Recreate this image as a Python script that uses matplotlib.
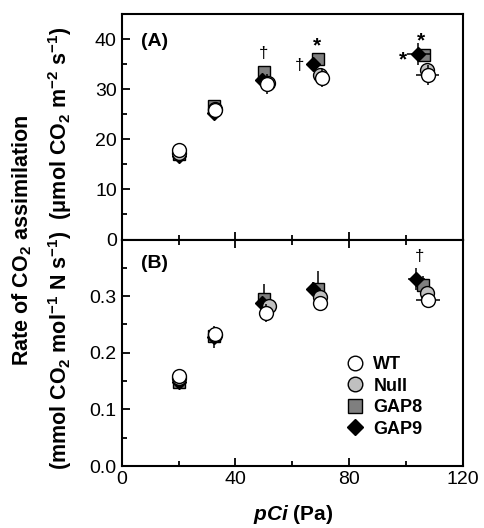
import matplotlib
matplotlib.use("Agg")
import matplotlib.pyplot as plt
from matplotlib.ticker import MultipleLocator

plt.rcParams['font.family'] = ['Liberation Sans', 'DejaVu Sans']
plt.rcParams['mathtext.fontset'] = 'custom'
plt.rcParams['mathtext.rm'] = 'Liberation Sans'
plt.rcParams['mathtext.bf'] = 'Liberation Sans:bold'
plt.rcParams['mathtext.it'] = 'Liberation Sans:italic:bold'

# panel A: rate per leaf area (umol CO2 m-2 s-1)
a_wt_x = [20.2, 32.8, 51.0, 70.3, 107.6]
a_wt_y = [17.9, 25.9, 31.0, 32.2, 32.8]
a_wt_yerr = [0.9, 0.9, 2.0, 1.8, 2.0]
a_wt_xerr = [0.5, 0.5, 0.6, 0.8, 4.1]
a_null_x = [20.2, 32.8, 51.5, 69.9, 107.2]
a_null_y = [17.3, 26.0, 31.2, 32.8, 33.8]
a_gap8_x = [20.0, 32.6, 50.1, 68.9, 106.3]
a_gap8_y = [17.0, 26.6, 33.5, 36.0, 36.8]
a_gap8_yerr = [0.6, 0.6, 0.9, 1.0, 1.0]
a_gap9_x = [20.0, 32.6, 49.2, 67.4, 104.3]
a_gap9_y = [16.7, 25.3, 31.8, 35.0, 37.0]
a_gap9_yerr = [0.5, 0.5, 0.6, 0.8, 2.2]
a_gap9_xerr = [0.4, 0.4, 0.5, 0.6, 4.0]

# panel B: rate per leaf N (mmol CO2 mol-1 N s-1)
b_wt_x = [20.2, 32.8, 50.6, 69.9, 107.6]
b_wt_y = [0.159, 0.233, 0.270, 0.287, 0.293]
b_wt_yerr = [0.012, 0.012, 0.016, 0.012, 0.013]
b_wt_xerr = [0.5, 0.5, 0.6, 0.8, 4.2]
b_null_x = [20.2, 32.8, 51.9, 69.9, 107.2]
b_null_y = [0.155, 0.231, 0.282, 0.298, 0.306]
b_gap8_x = [20.0, 32.6, 50.1, 69.1, 106.0]
b_gap8_y = [0.149, 0.229, 0.295, 0.313, 0.320]
b_gap8_yerr = [0.008, 0.012, 0.027, 0.031, 0.016]
b_gap9_x = [20.0, 32.4, 49.2, 67.4, 103.6]
b_gap9_y = [0.148, 0.228, 0.287, 0.313, 0.330]
b_gap9_yerr = [0.008, 0.020, 0.012, 0.012, 0.020]
b_gap9_xerr = [0.4, 0.4, 0.5, 0.6, 3.0]

fig = plt.figure(figsize=(4.84, 5.28), dpi=100)
axA = fig.add_axes([0.2514, 0.5464, 0.7052, 0.4271])
axB = fig.add_axes([0.2514, 0.1174, 0.7052, 0.4290])

ms = 10
ebkw = dict(ecolor='black', elinewidth=1.1, capsize=0, linestyle='none')


def draw(ax, g8x, g8y, g8e, g9x, g9y, g9e, g9xe, nx, ny, wx, wy, wye, wxe):
    ax.errorbar(g8x, g8y, yerr=g8e, marker='s', ms=ms - 1, mfc='#7f7f7f',
                mec='black', mew=1.0, label='GAP8', zorder=3, **ebkw)
    ax.errorbar(g9x, g9y, yerr=g9e, xerr=g9xe, marker='D', ms=ms - 2.5, mfc='black',
                mec='black', mew=1.0, label='GAP9', zorder=4, **ebkw)
    ax.errorbar(nx, ny, marker='o', ms=ms, mfc='#c0c0c0', mec='black', mew=1.0,
                label='Null', zorder=5, **ebkw)
    ax.errorbar(wx, wy, yerr=wye, xerr=wxe, marker='o', ms=ms, mfc='white',
                mec='black', mew=1.0, label='WT', zorder=6, **ebkw)


draw(axA, a_gap8_x, a_gap8_y, a_gap8_yerr, a_gap9_x, a_gap9_y, a_gap9_yerr, a_gap9_xerr,
     a_null_x, a_null_y, a_wt_x, a_wt_y, a_wt_yerr, a_wt_xerr)
draw(axB, b_gap8_x, b_gap8_y, b_gap8_yerr, b_gap9_x, b_gap9_y, b_gap9_yerr, b_gap9_xerr,
     b_null_x, b_null_y, b_wt_x, b_wt_y, b_wt_yerr, b_wt_xerr)

for ax in (axA, axB):
    ax.set_xlim(0, 120)
    ax.xaxis.set_major_locator(MultipleLocator(40))
    ax.xaxis.set_minor_locator(MultipleLocator(20))
    ax.tick_params(which='both', direction='in', width=1.3, labelsize=14,
                   top=False, right=False)
    ax.tick_params(which='major', length=5.5)
    ax.tick_params(which='minor', length=3.5)
    for s in ax.spines.values():
        s.set_linewidth(1.5)

axA.set_ylim(0, 45)
axA.yaxis.set_major_locator(MultipleLocator(10))
axA.yaxis.set_minor_locator(MultipleLocator(5))
axA.tick_params(axis='x', labelbottom=False)
axB.set_ylim(0, 0.4)
axB.set_yticks([0.0, 0.1, 0.2, 0.3])
axB.set_yticklabels(['0.0', '0.1', '0.2', '0.3'])
axB.yaxis.set_minor_locator(MultipleLocator(0.05))
axB.tick_params(axis='x', top=True, which='both')

axA.text(0.056, 0.88, '(A)', transform=axA.transAxes, fontsize=14,
         fontweight='bold', va='center')
axB.text(0.056, 0.895, '(B)', transform=axB.transAxes, fontsize=14,
         fontweight='bold', va='center')

# significance marks
axA.text(50.0, 37.2, '\u2020', fontsize=12, ha='center', va='center')
axA.text(68.6, 38.6, '*', fontsize=15, fontweight='bold', ha='center', va='center')
axA.text(62.4, 34.8, '\u2020', fontsize=12, ha='center', va='center')
axA.text(105.4, 39.6, '*', fontsize=15, fontweight='bold', ha='center', va='center')
axA.text(99.0, 35.8, '*', fontsize=15, fontweight='bold', ha='center', va='center')
axB.text(104.6, 0.370, '\u2020', fontsize=12, ha='center', va='center')

h, l = axB.get_legend_handles_labels()
order = [l.index(k) for k in ['WT', 'Null', 'GAP8', 'GAP9']]
hs = [h[i][0] for i in order]
axB.legend(hs, [l[i] for i in order], loc='lower left', bbox_to_anchor=(0.65, 0.125),
           frameon=False, prop={'weight': 'bold', 'size': 13},
           handletextpad=0.35, labelspacing=0.25, handlelength=1.3,
           borderaxespad=0, borderpad=0, markerscale=1.05)

fig.text(0.0455, 0.545, r'Rate of CO$_\mathbf{2}$ assimilation', rotation=90,
         ha='center', va='center', fontsize=15.5, fontweight='bold')
fig.text(0.124, 0.529,
         r'(mmol CO$_\mathbf{2}$ mol$^\mathbf{-1}$ N s$^\mathbf{-1}$)  '
         r'($\mathbf{\mu}$mol CO$_\mathbf{2}$ m$^\mathbf{-2}$ s$^\mathbf{-1}$)',
         rotation=90, ha='center', va='center', fontsize=15.5, fontweight='bold')

fig.text(0.605, 0.025, r'$pCi$ (Pa)', ha='center', va='center',
         fontsize=15, fontweight='bold')

fig.savefig('out.png', dpi=100)
